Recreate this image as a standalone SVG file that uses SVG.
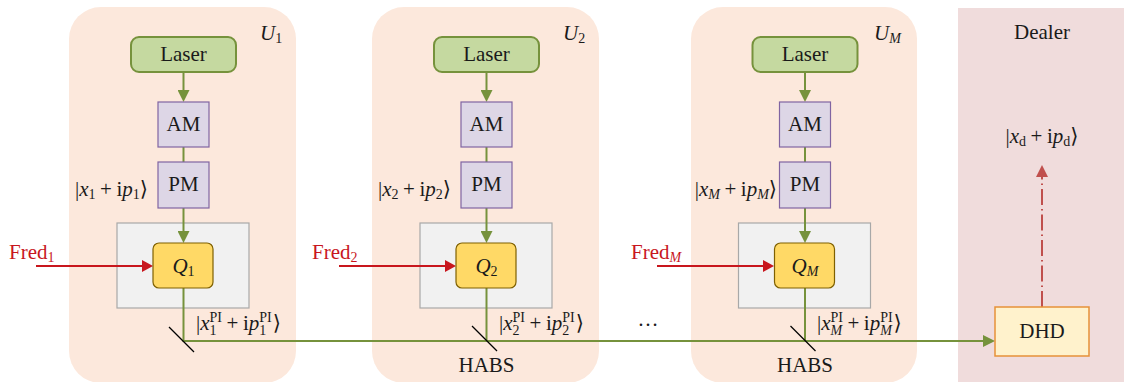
<svg xmlns="http://www.w3.org/2000/svg" width="1124" height="382" viewBox="0 0 1124 382">
<style>
.lbl{font-family:"Liberation Serif","DejaVu Serif",serif;font-size:21px;fill:#1a1a1a}
.c{text-anchor:middle}
.it{font-style:italic}
.sm{font-size:14px}
.red{fill:#c8161d}
.panel{fill:#fce8dc}
.dealer{fill:#f0dcdc}
.laser{fill:#c5d9a0;stroke:#76923c;stroke-width:2}
.mod{fill:#ddd6e6;stroke:#8064a2;stroke-width:1.2}
.gray{fill:#f1f1f1;stroke:#a8a8a8;stroke-width:1.2}
.q{fill:#ffd966;stroke:#7f6000;stroke-width:1.2}
.dhd{fill:#fff2cc;stroke:#e69138;stroke-width:1.5}
.g{stroke:#76923c;stroke-width:2;fill:none}
.r{stroke:#c8161d;stroke-width:2;fill:none}
.bs{stroke:#000;stroke-width:1.3}
.dd{stroke:#c0504d;stroke-width:2;fill:none;stroke-dasharray:16 4 1.5 4}
</style>
<defs>
<marker id="ag" markerUnits="userSpaceOnUse" markerWidth="12" markerHeight="12" viewBox="0 0 12 12" refX="8" refY="6" orient="auto"><path d="M0,0 L12,6 L0,12 z" fill="#76923c"/></marker>
<marker id="ar" markerUnits="userSpaceOnUse" markerWidth="11" markerHeight="12" viewBox="0 0 11 12" refX="7" refY="6" orient="auto"><path d="M0,0 L11,6 L0,12 z" fill="#c8161d"/></marker>
<marker id="ad" markerUnits="userSpaceOnUse" markerWidth="12" markerHeight="12" viewBox="0 0 12 12" refX="8" refY="6" orient="auto"><path d="M0,0 L12,6 L0,12 z" fill="#c0504d"/></marker>
</defs>

<g id="panels">
<rect id="panel-U1" class="panel" x="69" y="7" width="227" height="376" rx="32"/>
<rect id="panel-U2" class="panel" x="372" y="7" width="227" height="376" rx="32"/>
<rect id="panel-UM" class="panel" x="691" y="7" width="226" height="376" rx="32"/>
<rect id="panel-dealer" class="dealer" x="958" y="8" width="166" height="374"/>
<text class="lbl it" x="260" y="40">U<tspan class="sm" font-style="normal" dy="3">1</tspan></text>
<text class="lbl it" x="563" y="40">U<tspan class="sm" font-style="normal" dy="3">2</tspan></text>
<text class="lbl it" x="874" y="40">U<tspan class="sm" dy="3">M</tspan></text>
<text class="lbl c" x="1042" y="39">Dealer</text>
</g>

<g id="gray-boxes">
<rect class="gray" x="117" y="223" width="132" height="85"/>
<rect class="gray" x="420" y="223" width="132" height="85"/>
<rect class="gray" x="738.5" y="223" width="132" height="85"/>
</g>

<g id="connectors">
<line class="g" x1="183.5" y1="72" x2="183.5" y2="98" marker-end="url(#ag)"/>
<line class="g" x1="183.5" y1="147" x2="183.5" y2="162"/>
<line class="g" x1="183.5" y1="208" x2="183.5" y2="239" marker-end="url(#ag)"/>
<line class="g" x1="486.5" y1="72" x2="486.5" y2="98" marker-end="url(#ag)"/>
<line class="g" x1="486.5" y1="147" x2="486.5" y2="162"/>
<line class="g" x1="486.5" y1="208" x2="486.5" y2="239" marker-end="url(#ag)"/>
<line class="g" x1="805" y1="72" x2="805" y2="98" marker-end="url(#ag)"/>
<line class="g" x1="805" y1="147" x2="805" y2="162"/>
<line class="g" x1="805" y1="208" x2="805" y2="239" marker-end="url(#ag)"/>
<line class="r" x1="36" y1="266" x2="149" y2="266" marker-end="url(#ar)"/>
<line class="r" x1="339" y1="266" x2="452" y2="266" marker-end="url(#ar)"/>
<line class="r" x1="657" y1="266" x2="770" y2="266" marker-end="url(#ar)"/>
<path class="g" d="M183.5,288 V341 H991" marker-end="url(#ag)"/>
<line class="g" x1="486.5" y1="288" x2="486.5" y2="341"/>
<line class="g" x1="805" y1="288" x2="805" y2="341"/>
<line class="dd" x1="1042" y1="307" x2="1042" y2="169" marker-end="url(#ad)"/>
<line class="bs" x1="169" y1="327" x2="194" y2="352"/>
<line class="bs" x1="472" y1="326" x2="497" y2="351"/>
<line class="bs" x1="790.5" y1="326" x2="815.5" y2="351"/>
</g>

<g id="U1">
<g id="laser-1"><rect class="laser" x="131" y="37" width="105" height="35" rx="8"/><text class="lbl c" x="183.5" y="61">Laser</text></g>
<g id="am-1"><rect class="mod" x="158" y="102" width="51" height="45"/><text class="lbl c" x="183.5" y="131">AM</text></g>
<g id="pm-1"><rect class="mod" x="158" y="162" width="51" height="46"/><text class="lbl c" x="183.5" y="191">PM</text></g>
<g id="q-1"><rect class="q" x="153" y="243" width="60" height="45" rx="6"/><text class="lbl c it" x="183.5" y="273">Q<tspan class="sm" font-style="normal" dy="3">1</tspan></text></g>
<text class="lbl" x="148" y="196" text-anchor="end">|<tspan class="it">x</tspan><tspan class="sm" dy="3">1</tspan><tspan dy="-3" dx="4.5">+</tspan><tspan dx="4.5">i</tspan><tspan class="it">p</tspan><tspan class="sm" dy="3">1</tspan><tspan dy="-3">⟩</tspan></text>
<text class="lbl red" x="9" y="259">Fred<tspan class="sm red" dy="3">1</tspan></text>
<text class="lbl" x="196" y="330">|<tspan class="it">x</tspan><tspan class="sm" dy="-8">PI</tspan><tspan class="sm" dx="-12.4" dy="13">1</tspan><tspan dx="10" dy="-5">+</tspan><tspan dx="4.5">i</tspan><tspan class="it">p</tspan><tspan class="sm" dy="-8">PI</tspan><tspan class="sm" dx="-12.4" dy="13">1</tspan><tspan dx="6.5" dy="-5">⟩</tspan></text>
</g>

<g id="U2">
<g id="laser-2"><rect class="laser" x="434" y="37" width="105" height="35" rx="8"/><text class="lbl c" x="486.5" y="61">Laser</text></g>
<g id="am-2"><rect class="mod" x="461" y="102" width="51" height="45"/><text class="lbl c" x="486.5" y="131">AM</text></g>
<g id="pm-2"><rect class="mod" x="461" y="162" width="51" height="46"/><text class="lbl c" x="486.5" y="191">PM</text></g>
<g id="q-2"><rect class="q" x="456" y="243" width="60" height="45" rx="6"/><text class="lbl c it" x="486.5" y="273">Q<tspan class="sm" font-style="normal" dy="3">2</tspan></text></g>
<text class="lbl" x="451" y="196" text-anchor="end">|<tspan class="it">x</tspan><tspan class="sm" dy="3">2</tspan><tspan dy="-3" dx="4.5">+</tspan><tspan dx="4.5">i</tspan><tspan class="it">p</tspan><tspan class="sm" dy="3">2</tspan><tspan dy="-3">⟩</tspan></text>
<text class="lbl red" x="312" y="259">Fred<tspan class="sm red" dy="3">2</tspan></text>
<text class="lbl" x="499" y="330">|<tspan class="it">x</tspan><tspan class="sm" dy="-8">PI</tspan><tspan class="sm" dx="-12.4" dy="13">2</tspan><tspan dx="10" dy="-5">+</tspan><tspan dx="4.5">i</tspan><tspan class="it">p</tspan><tspan class="sm" dy="-8">PI</tspan><tspan class="sm" dx="-12.4" dy="13">2</tspan><tspan dx="6.5" dy="-5">⟩</tspan></text>
<text class="lbl c" x="486.5" y="372">HABS</text>
</g>

<text class="lbl c" x="648" y="326">…</text>

<g id="UM">
<g id="laser-M"><rect class="laser" x="752.5" y="37" width="105" height="35" rx="8"/><text class="lbl c" x="805" y="61">Laser</text></g>
<g id="am-M"><rect class="mod" x="779.5" y="102" width="51" height="45"/><text class="lbl c" x="805" y="131">AM</text></g>
<g id="pm-M"><rect class="mod" x="779.5" y="162" width="51" height="46"/><text class="lbl c" x="805" y="191">PM</text></g>
<g id="q-M"><rect class="q" x="774.5" y="243" width="60" height="45" rx="6"/><text class="lbl c it" x="805" y="273">Q<tspan class="sm" dy="3">M</tspan></text></g>
<text class="lbl" x="777" y="196" text-anchor="end">|<tspan class="it">x</tspan><tspan class="sm it" dy="3">M</tspan><tspan dy="-3" dx="4.5">+</tspan><tspan dx="4.5">i</tspan><tspan class="it">p</tspan><tspan class="sm it" dy="3">M</tspan><tspan dy="-3">⟩</tspan></text>
<text class="lbl red" x="631" y="259">Fred<tspan class="sm it red" dy="3">M</tspan></text>
<text class="lbl" x="817" y="330">|<tspan class="it">x</tspan><tspan class="sm" dy="-8">PI</tspan><tspan class="sm it" dx="-12.4" dy="13">M</tspan><tspan dx="5.2" dy="-5">+</tspan><tspan dx="4.5">i</tspan><tspan class="it">p</tspan><tspan class="sm" dy="-8">PI</tspan><tspan class="sm it" dx="-12.4" dy="13">M</tspan><tspan dx="1.7" dy="-5">⟩</tspan></text>
<text class="lbl c" x="805" y="372">HABS</text>
</g>

<g id="dealer">
<text class="lbl c" x="1042" y="143">|<tspan class="it">x</tspan><tspan class="sm" dy="3">d</tspan><tspan dy="-3" dx="4.5">+</tspan><tspan dx="4.5">i</tspan><tspan class="it">p</tspan><tspan class="sm" dy="3">d</tspan><tspan dy="-3">⟩</tspan></text>
<g id="dhd"><rect class="dhd" x="995" y="307" width="94" height="49"/><text class="lbl c" x="1042" y="338">DHD</text></g>
</g>
</svg>
